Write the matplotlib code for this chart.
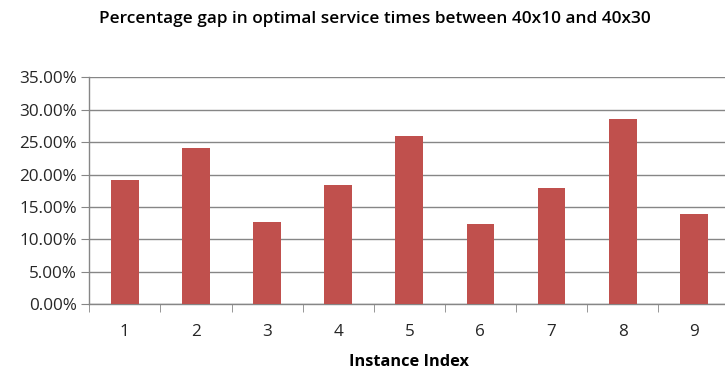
import numpy as np
import matplotlib.pyplot as plt
from matplotlib.ticker import FuncFormatter, FixedLocator

# gap between 40x10 and 40x30 optimal service times, per instance
instances = ['1', '2', '3', '4', '5', '6', '7', '8', '9']
gap_pct = [19.17, 24.05, 12.64, 18.39, 25.95, 12.33, 17.88, 28.62, 13.97]

plt.rcParams['font.family'] = ['Open Sans', 'DejaVu Sans']
grey = '#868686'
txt = '#262626'

fig = plt.figure(figsize=(7.25, 3.73), dpi=100)
# axes runs slightly past the right edge of the canvas
ax = fig.add_axes([89.3 / 725, 1 - 304.3 / 373, 640 / 725, 227 / 373])

x = np.arange(len(instances))
ax.bar(x, gap_pct, width=0.39, color='#C0504D', zorder=3)

ax.set_xlim(-0.5, len(instances) - 0.5)
ax.set_ylim(0, 35)
ax.set_yticks(np.arange(0, 36, 5))
ax.yaxis.set_major_formatter(FuncFormatter(lambda v, p: '%.2f%%' % v))
ax.set_xticks(x)
ax.set_xticklabels(instances)
ax.xaxis.set_minor_locator(FixedLocator(np.arange(-0.5, len(instances), 1)))

ax.grid(axis='y', color=grey, linewidth=1, zorder=0)
for s in ['top', 'right']:
    ax.spines[s].set_visible(False)
for s in ['left', 'bottom']:
    ax.spines[s].set_color(grey)
    ax.spines[s].set_linewidth(1)

ax.tick_params(axis='y', length=6, color=grey, labelsize=12.3, labelcolor=txt, pad=3)
ax.tick_params(axis='x', which='major', length=0, labelsize=12.3, labelcolor=txt, pad=14)
ax.tick_params(axis='x', which='minor', length=6, color=grey)

ax.set_xlabel('Instance Index', fontsize=11.8, fontweight='bold', color='black', labelpad=10)
fig.text(0.517, 0.95, 'Percentage gap in optimal service times between 40x10 and 40x30',
         ha='center', va='center', fontsize=12.4, fontweight='semibold', color='black')

fig.savefig('out.png', dpi=100)
